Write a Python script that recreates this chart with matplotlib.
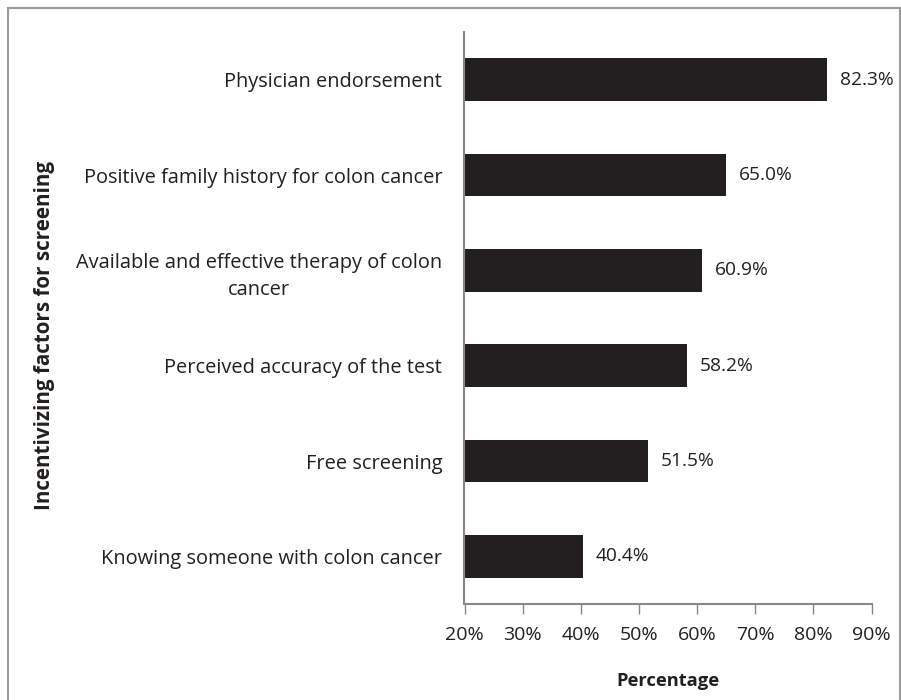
import matplotlib
matplotlib.use("Agg")
import matplotlib.pyplot as plt
from matplotlib.patches import Rectangle

categories = [
    "Knowing someone with colon cancer",
    "Free screening",
    "Perceived accuracy of the test",
    "Available and effective therapy of colon\ncancer",
    "Positive family history for colon cancer",
    "Physician endorsement",
]
values = [40.4, 51.5, 58.2, 60.9, 65.0, 82.3]
xticks = [20, 30, 40, 50, 60, 70, 80, 90]

plt.rcParams['font.family'] = ['Open Sans', 'DejaVu Sans']
FS = 14.4

fig = plt.figure(figsize=(9.01, 7.0), dpi=100)
ax = fig.add_axes([464.5/901, 1-604/700, (871.5-464.5)/901, (604-32)/700])

ypos = list(range(len(categories)))
ax.barh(ypos, values, height=0.45, color='#231f20', left=0)
ax.set_xlim(20, 90)
ax.set_ylim(-0.5, len(categories)-0.5)
for y, v in zip(ypos, values):
    ax.text(v + 2.2, y, f"{v:.1f}%", va='center', ha='left', fontsize=13.8, color='#231f20')

ax.set_yticks(ypos)
ax.set_yticklabels(categories, fontsize=FS, color='#231f20', multialignment='center',
                   linespacing=1.45)
ax.set_xticks(xticks)
ax.set_xticklabels([f"{t}%" for t in xticks], fontsize=14, color='#231f20')
ax.tick_params(axis='y', length=0, pad=16)
ax.tick_params(axis='x', length=7, width=1, color='#888888', pad=9, direction='out')
for s in ['top', 'right']:
    ax.spines[s].set_visible(False)
for s in ['left', 'bottom']:
    ax.spines[s].set_color('#888888')
    ax.spines[s].set_linewidth(1.5)

ax.set_xlabel("Percentage", fontsize=13.2, fontweight='bold', color='#231f20', labelpad=20)
fig.text(45/901, 1-335/700, "Incentivizing factors for screening", rotation=90,
         fontsize=14.9, fontweight='bold', color='#231f20', ha='center', va='center')

# outer frame
fig.patches.append(Rectangle((8/901, -0.1), (901-8)/901 - 1/901, 1.1 - 8/700, transform=fig.transFigure,
                             fill=False, edgecolor='#999999', linewidth=1.5))

fig.savefig("out.png", dpi=100)
